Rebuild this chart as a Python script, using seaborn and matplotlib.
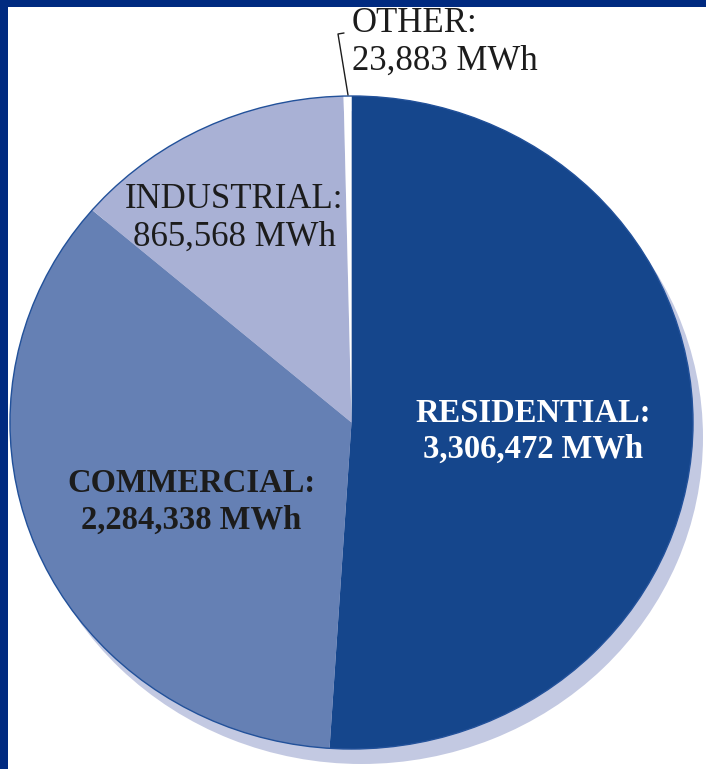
import matplotlib
matplotlib.use("Agg")
import matplotlib.pyplot as plt
from matplotlib.patches import Rectangle, Ellipse
import seaborn as sns

# Electricity sales by customer class
categories = ["RESIDENTIAL", "COMMERCIAL", "INDUSTRIAL", "OTHER"]
mwh = [3306472, 2284338, 865568, 23883]
slice_colors = ["#15468c", "#6580b4", "#a9b1d5", "#ffffff"]
label_colors = ["#ffffff", "#1c1c1c", "#1c1c1c", "#1c1c1c"]
label_weights = ["bold", "bold", "normal", "normal"]
label_sizes = [23.5, 23.5, 25, 25]

sns.set_style("white")
plt.rcParams["font.family"] = ["Liberation Serif", "DejaVu Serif"]

W, H = 706, 769
fig = plt.figure(figsize=(W / 100, H / 100), dpi=100)
fig.patch.set_facecolor("white")

# pie bounding box in pixels (left, top, right, bottom)
L, T, R, B = 10, 96, 693, 749
ax = fig.add_axes([L / W, (H - B) / H, (R - L) / W, (B - T) / H])
rx, ry = (R - L) / 2, (B - T) / 2

# drop shadow: one wedge holding the total, shifted right and down
total = sum(mwh)
ax.pie([total], colors=["#c3c9e2"], radius=1.0,
       center=(10 / rx, -15 / ry), startangle=90,
       wedgeprops=dict(linewidth=0, zorder=1))

wedges, _ = ax.pie(mwh, colors=slice_colors, startangle=90, counterclock=False,
                   radius=1.0, center=(0, 0),
                   wedgeprops=dict(linewidth=0, zorder=2))

# thin rim around the pie
ax.add_patch(Ellipse((0, 0), 2, 2, fill=False, edgecolor="#22519a",
                     linewidth=1.0, zorder=3))

ax.set_xlim(-1, 1)
ax.set_ylim(-1, 1)
ax.set_aspect("auto")
ax.axis("off")
for p in ax.patches:
    p.set_clip_on(False)


def fx(px):
    return px / W


def fy(py):
    return 1 - py / H


def fmt(v):
    return f"{v:,} MWh"


# label anchor points in pixels (x, first line y, second line y, alignment)
label_pos = {
    "RESIDENTIAL": (533, 414, 449, "center"),
    "COMMERCIAL": (191, 484, 520, "center"),
    "INDUSTRIAL": (234, 200, 237, "center"),
    "OTHER": (352, 24, 61, "left"),
}
for name, val, col, wt, size in zip(categories, mwh, label_colors,
                                     label_weights, label_sizes):
    x, y1, y2, ha = label_pos[name]
    fig.text(fx(x), fy(y1), name + ":", ha=ha, va="center", color=col,
             fontsize=size, fontweight=wt)
    fig.text(fx(x), fy(y2), fmt(val), ha=ha, va="center", color=col,
             fontsize=size, fontweight=wt)

# leader line for the small slice
fig.add_artist(plt.Line2D([fx(348), fx(338), fx(344)],
                          [fy(95), fy(34), fy(33)],
                          color="#1c1c1c", linewidth=1.0))

# dark frame on the left and top edges
fig.add_artist(Rectangle((0, 0), 8 / W, 1, transform=fig.transFigure,
                         facecolor="#002a80", edgecolor="none", zorder=10))
fig.add_artist(Rectangle((0, 1 - 7 / H), 1, 7 / H, transform=fig.transFigure,
                         facecolor="#002a80", edgecolor="none", zorder=10))

fig.savefig("out.png", dpi=100, facecolor="white")
